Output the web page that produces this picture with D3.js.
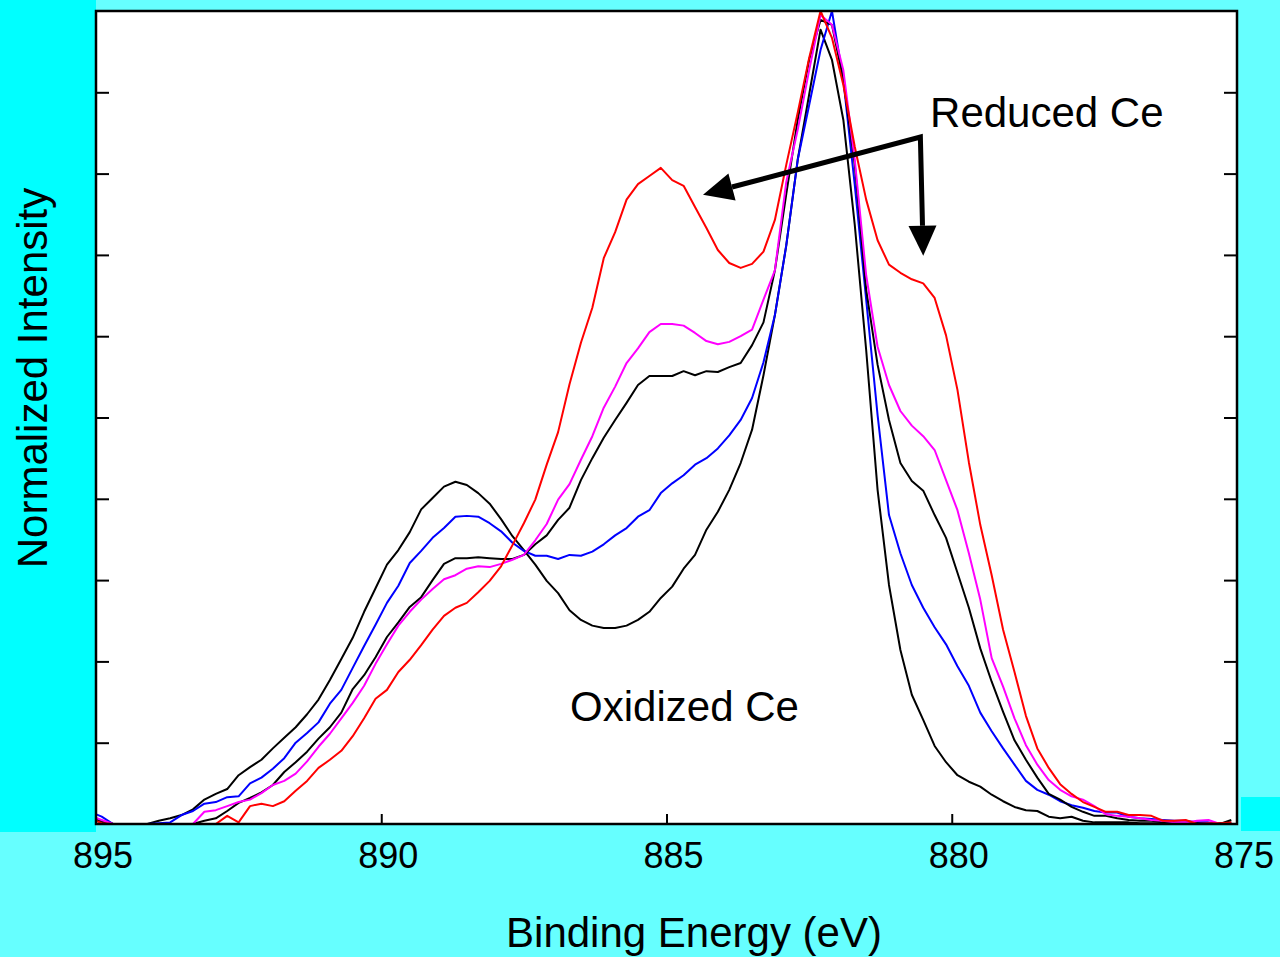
<!DOCTYPE html>
<html>
<head>
<meta charset="utf-8">
<script src="https://d3js.org/d3.v7.min.js"></script>
<style>
  body { margin: 0; background: #66ffff; }
  svg { display: block; }
  text { font-family: "Liberation Sans", Arial, sans-serif; fill: #000; }
</style>
</head>
<body>
<div id="chart"></div>
<script>
// binding energy grid (eV), 0.2 eV steps
var energy = [
  895.1, 894.9, 894.7, 894.5, 894.3, 894.1, 893.9, 893.7, 893.5, 893.3,
  893.1, 892.9, 892.7, 892.5, 892.3, 892.1, 891.9, 891.7, 891.5, 891.3,
  891.1, 890.9, 890.7, 890.5, 890.3, 890.1, 889.9, 889.7, 889.5, 889.3,
  889.1, 888.9, 888.7, 888.5, 888.3, 888.1, 887.9, 887.7, 887.5, 887.3,
  887.1, 886.9, 886.7, 886.5, 886.3, 886.1, 885.9, 885.7, 885.5, 885.3,
  885.1, 884.9, 884.7, 884.5, 884.3, 884.1, 883.9, 883.7, 883.5, 883.3,
  883.1, 882.9, 882.7, 882.5, 882.3, 882.1, 881.9, 881.7, 881.5, 881.3,
  881.1, 880.9, 880.7, 880.5, 880.3, 880.1, 879.9, 879.7, 879.5, 879.3,
  879.1, 878.9, 878.7, 878.5, 878.3, 878.1, 877.9, 877.7, 877.5, 877.3,
  877.1, 876.9, 876.7, 876.5, 876.3, 876.1, 875.9, 875.7, 875.5, 875.3,
  875.1
];

// normalized intensities
var reduced = [
  .007, .001, 0, 0, 0, 0, 0, 0, 0, 0,
  0, 0, .010, .002, .022, .025, .022, .028, .041, .053,
  .069, .079, .090, .108, .130, .154, .165, .187, .202, .220,
  .239, .256, .266, .272, .285, .299, .317, .343, .370, .399,
  .442, .482, .541, .592, .635, .696, .728, .768, .787, .797,
  .807, .792, .785, .759, .733, .706, .690, .684, .689, .704,
  .743, .811, .875, .942, 1.000, .967, .909, .833, .768, .718,
  .688, .678, .670, .665, .647, .601, .534, .445, .368, .306,
  .239, .187, .133, .093, .069, .049, .037, .027, .021, .015,
  .015, .011, .011, .010, .004, .004, .005, 0, .001, .001,
  .002
];

var magenta = [
  .010, .005, 0, 0, 0, 0, 0, 0, 0, 0,
  .015, .017, .022, .027, .030, .038, .048, .053, .062, .077,
  .095, .111, .130, .149, .170, .197, .221, .244, .261, .276,
  .289, .301, .306, .314, .317, .316, .320, .325, .331, .349,
  .369, .399, .418, .448, .477, .512, .538, .567, .585, .605,
  .615, .615, .613, .604, .594, .590, .593, .600, .608, .645,
  .681, .790, .854, .927, .995, .983, .927, .817, .675, .587,
  .540, .508, .490, .477, .460, .423, .386, .333, .276, .204,
  .169, .130, .097, .073, .054, .042, .034, .030, .022, .012,
  .010, .009, .007, .005, .004, .002, .002, .004, .005, 0,
  .001
];

var blackMid = [
  .007, .002, 0, 0, 0, 0, 0, 0, 0, 0,
  .004, .007, .016, .026, .032, .039, .048, .064, .076, .089,
  .105, .119, .137, .166, .183, .205, .230, .248, .267, .279,
  .300, .320, .327, .327, .328, .327, .326, .326, .331, .344,
  .355, .374, .389, .423, .450, .475, .497, .518, .540, .551,
  .551, .551, .557, .552, .557, .556, .562, .567, .589, .617,
  .681, .775, .866, .940, .989, .983, .915, .811, .657, .565,
  .497, .444, .422, .410, .380, .352, .309, .266, .216, .175,
  .138, .103, .079, .057, .037, .030, .021, .015, .010, .010,
  .007, .005, .004, .004, .002, .002, .001, .001, 0, .001,
  .002
];

var blue = [
  .015, .009, 0, 0, 0, 0, .001, .002, .011, .016,
  .025, .027, .033, .034, .050, .057, .068, .081, .100, .112,
  .125, .148, .165, .192, .219, .245, .272, .293, .321, .336,
  .352, .364, .378, .379, .378, .370, .360, .346, .336, .330,
  .330, .326, .331, .330, .335, .344, .355, .364, .378, .386,
  .407, .419, .429, .442, .450, .462, .478, .497, .524, .568,
  .626, .712, .817, .884, .952, 1.000, .915, .786, .645, .503,
  .380, .333, .294, .266, .242, .221, .194, .170, .137, .114,
  .093, .073, .053, .042, .036, .028, .023, .020, .016, .014,
  .014, .009, .007, .006, .005, .004, .004, .002, .002, .001,
  0
];

var oxidized = [
  .007, .004, 0, 0, 0, 0, .004, .007, .011, .018,
  .030, .037, .043, .060, .070, .079, .093, .106, .119, .135,
  .153, .177, .203, .229, .261, .290, .319, .337, .359, .387,
  .401, .415, .421, .417, .407, .394, .375, .354, .337, .319,
  .299, .284, .263, .251, .244, .241, .241, .244, .251, .261,
  .278, .292, .314, .331, .362, .384, .411, .444, .485, .552,
  .626, .712, .817, .897, .977, .940, .866, .737, .583, .411,
  .294, .214, .159, .128, .096, .076, .060, .052, .046, .036,
  .028, .021, .017, .016, .009, .007, .009, .004, .002, .002,
  .002, .002, .001, .001, .001, .001, 0, 0, 0, 0,
  .005
];

var xTickLabels = [895, 890, 885, 880, 875];
var xInnerTicks = [890, 885, 880];
var yTicks = [0.1, 0.2, 0.3, 0.4, 0.5, 0.6, 0.7, 0.8, 0.9];

// drawing order: first drawn ends up underneath
var series = [
  {values: oxidized, color: "#000000"},
  {values: blue, color: "#0000ff"},
  {values: blackMid, color: "#000000"},
  {values: magenta, color: "#ff00ff"},
  {values: reduced, color: "#ff0000"}
];

// set up chart
var svgWidth = 1280;
var svgHeight = 957;
var plot = {left: 96, right: 1237, top: 11, bottom: 824};

var svg = d3.select("#chart")
  .append("svg")
  .attr("width", svgWidth)
  .attr("height", svgHeight);

// backgrounds
svg.append("rect").attr("width", svgWidth).attr("height", svgHeight).attr("fill", "#66ffff");
svg.append("rect").attr("x", 0).attr("y", 0).attr("width", 96).attr("height", 832).attr("fill", "#00ffff");
svg.append("rect").attr("x", 1241).attr("y", 797).attr("width", 39).attr("height", 34).attr("fill", "#00ffff");
svg.append("rect")
  .attr("x", plot.left).attr("y", plot.top)
  .attr("width", plot.right - plot.left).attr("height", plot.bottom - plot.top)
  .attr("fill", "#ffffff");

var x = d3.scaleLinear().domain([895, 875]).range([plot.left, plot.right]);
var y = d3.scaleLinear().domain([0, 1]).range([plot.bottom, plot.top]);

svg.append("clipPath").attr("id", "clip")
  .append("rect")
  .attr("x", plot.left).attr("y", plot.top - 2)
  .attr("width", plot.right - plot.left).attr("height", plot.bottom - plot.top + 2);

var line = d3.line()
  .x(function(d, i) { return x(energy[i]); })
  .y(function(d) { return y(d); });

var curves = svg.append("g").attr("clip-path", "url(#clip)");
curves.selectAll("path")
  .data(series)
  .enter()
  .append("path")
  .attr("d", function(s) { return line(s.values); })
  .attr("fill", "none")
  .attr("stroke", function(s) { return s.color; })
  .attr("stroke-width", 2)
  .attr("stroke-linejoin", "round");

// ticks (inside)
var leftAxis = d3.axisLeft(y).tickValues(yTicks).tickSize(-13).tickFormat("");
var rightAxis = d3.axisRight(y).tickValues(yTicks).tickSize(-13).tickFormat("");
var bottomAxis = d3.axisBottom(x).tickValues(xInnerTicks).tickSize(-10).tickFormat("");

[
  svg.append("g").attr("transform", "translate(" + plot.left + ",0)").call(leftAxis),
  svg.append("g").attr("transform", "translate(" + plot.right + ",0)").call(rightAxis),
  svg.append("g").attr("transform", "translate(0," + plot.bottom + ")").call(bottomAxis)
].forEach(function(g) {
  g.select(".domain").remove();
  g.selectAll("line").attr("stroke", "#000").attr("stroke-width", 2);
});

// frame
svg.append("rect")
  .attr("x", plot.left).attr("y", plot.top)
  .attr("width", plot.right - plot.left).attr("height", plot.bottom - plot.top)
  .attr("fill", "none")
  .attr("stroke", "#000")
  .attr("stroke-width", 2.5);

// x tick labels (sit a little right of their ticks, as in the original)
svg.append("g").selectAll("text")
  .data(xTickLabels)
  .enter()
  .append("text")
  .attr("x", function(d) { return x(d) + 7; })
  .attr("y", 868)
  .attr("text-anchor", "middle")
  .attr("font-size", "36px")
  .text(function(d) { return d; });

// axis titles
svg.append("text")
  .attr("x", 694)
  .attr("y", 947)
  .attr("text-anchor", "middle")
  .attr("font-size", "42px")
  .text("Binding Energy (eV)");

svg.append("text")
  .attr("transform", "translate(47,378) rotate(-90)")
  .attr("text-anchor", "middle")
  .attr("font-size", "42px")
  .text("Normalized Intensity");

// annotations
var corner = [880.55, 0.845];
var leftTip = [884.36, 0.774];
var downTip = [880.5, 0.699];

function px(p) { return [x(p[0]), y(p[1])]; }

function arrowHead(from, to, len, half) {
  var dx = to[0] - from[0], dy = to[1] - from[1];
  var L = Math.sqrt(dx * dx + dy * dy);
  var ux = dx / L, uy = dy / L;
  var bx = to[0] - ux * len, by = to[1] - uy * len;
  return {
    base: [bx, by],
    pts: [to, [bx - uy * half, by + ux * half], [bx + uy * half, by - ux * half]]
  };
}

var c = px(corner);
var h1 = arrowHead(c, px(leftTip), 30, 14);
var h2 = arrowHead(c, px(downTip), 30, 14);

var ann = svg.append("g");
ann.append("path")
  .attr("d", d3.line()([h1.base, c, h2.base]))
  .attr("fill", "none")
  .attr("stroke", "#000")
  .attr("stroke-width", 5)
  .attr("stroke-linejoin", "miter");
[h1, h2].forEach(function(h) {
  ann.append("path")
    .attr("d", d3.line()(h.pts) + "Z")
    .attr("fill", "#000");
});

ann.append("text")
  .attr("x", x(880.38))
  .attr("y", y(0.857))
  .attr("font-size", "42px")
  .text("Reduced Ce");

ann.append("text")
  .attr("x", x(886.69))
  .attr("y", y(0.127))
  .attr("font-size", "42px")
  .text("Oxidized Ce");
</script>
</body>
</html>
